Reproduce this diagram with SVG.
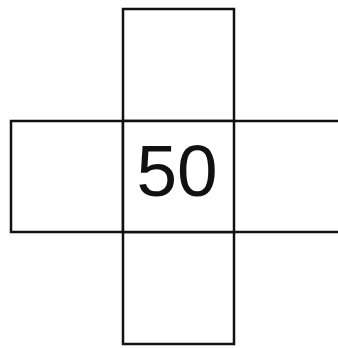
<svg xmlns="http://www.w3.org/2000/svg" width="338" height="348" viewBox="0 0 338 348">
<style>
.cell{fill:#fff;stroke:#111;stroke-width:2.5}
.num{font-family:"Liberation Sans",Arial,sans-serif;font-size:73px;fill:#111;text-anchor:middle}
</style>
<rect width="338" height="348" fill="#fff"/>
<g id="top"><rect class="cell" x="123" y="9" width="111" height="112"/></g>
<g id="left"><rect class="cell" x="11" y="121" width="112" height="111"/></g>
<g id="right"><path class="cell" d="M234 121 H340 M234 232 H340"/></g>
<g id="bottom"><rect class="cell" x="123" y="232" width="111" height="112"/></g>
<g id="center"><rect class="cell" x="123" y="121" width="111" height="111"/><text class="num" x="177" y="196">50</text></g>
</svg>
